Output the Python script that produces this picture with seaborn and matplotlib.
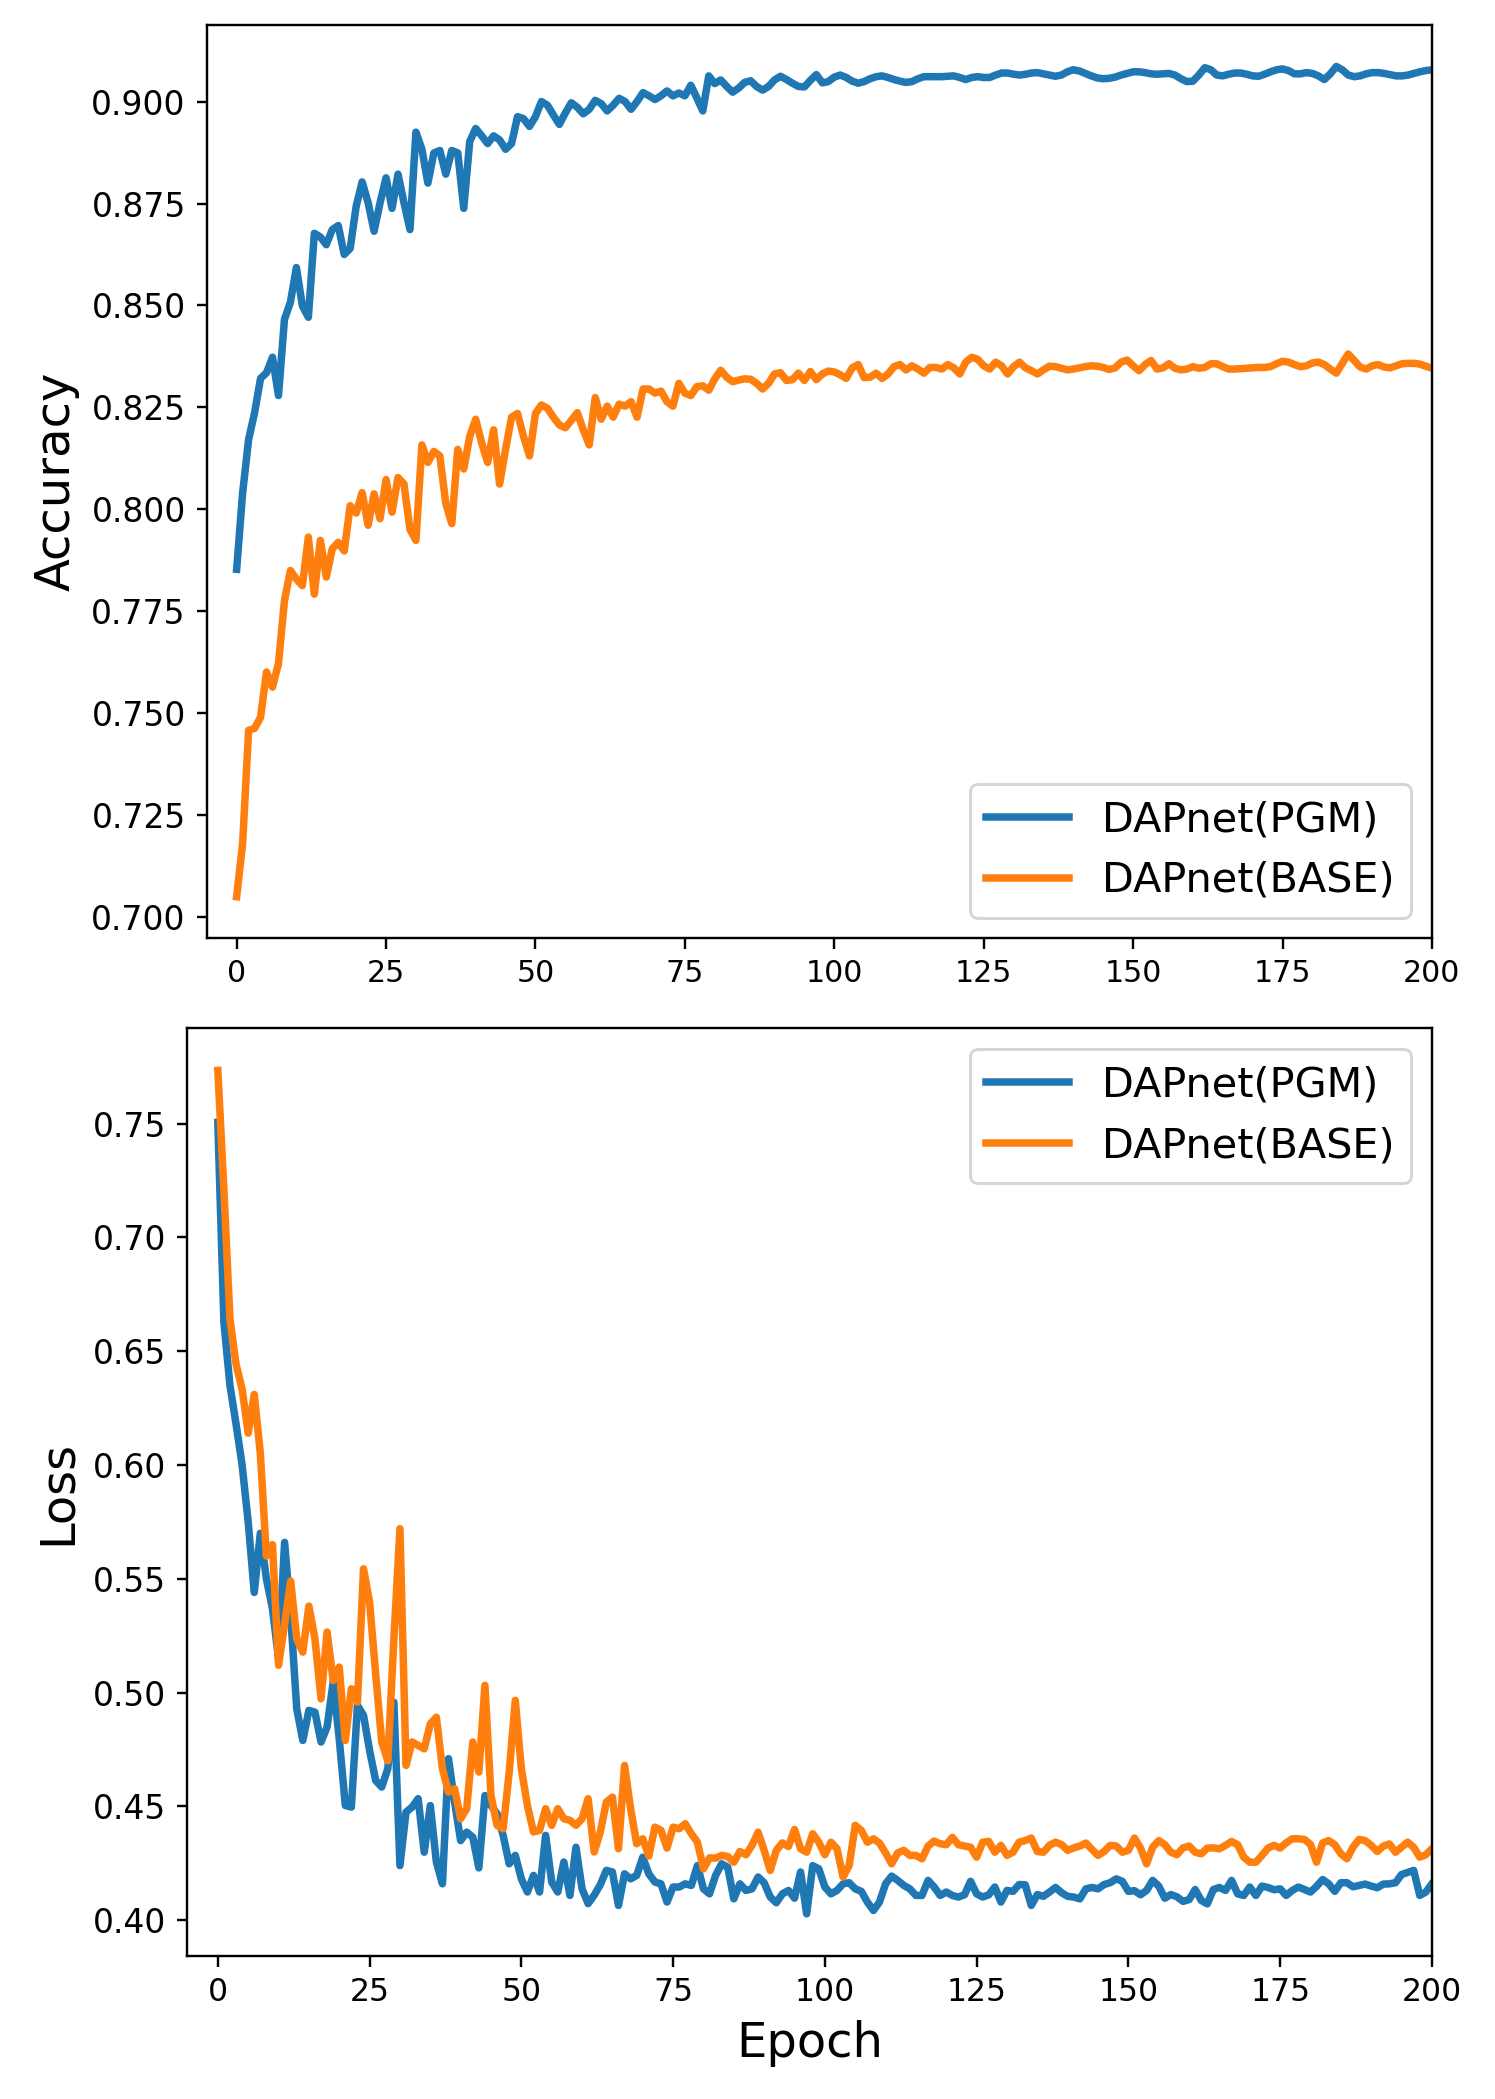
import numpy as np
import pandas as pd
import matplotlib
matplotlib.use("Agg")
import matplotlib.pyplot as plt
from matplotlib.ticker import MultipleLocator, FormatStrFormatter
import seaborn as sns

# accuracy per epoch (0..200)
acc_pgm = [
    0.7853, 0.8040, 0.8171, 0.8237, 0.8321, 0.8335, 0.8373, 0.8279, 0.8466, 0.8508,
    0.8593, 0.8499, 0.8471, 0.8677, 0.8668, 0.8649, 0.8686, 0.8696, 0.8625, 0.8640,
    0.8743, 0.8803, 0.8752, 0.8682, 0.8752, 0.8813, 0.8738, 0.8822, 0.8752, 0.8686,
    0.8925, 0.8883, 0.8800, 0.8874, 0.8880, 0.8822, 0.8880, 0.8874, 0.8738, 0.8902,
    0.8934, 0.8916, 0.8897, 0.8916, 0.8906, 0.8883, 0.8897, 0.8963, 0.8958, 0.8939,
    0.8963, 0.9000, 0.8991, 0.8967, 0.8944, 0.8972, 0.8997, 0.8986, 0.8970, 0.8981,
    0.9003, 0.8995, 0.8977, 0.8991, 0.9008, 0.9000, 0.8981, 0.9000, 0.9022, 0.9014,
    0.9005, 0.9014, 0.9026, 0.9014, 0.9021, 0.9014, 0.9040, 0.9009, 0.8977, 0.9063,
    0.9044, 0.9053, 0.9037, 0.9023, 0.9033, 0.9047, 0.9051, 0.9037, 0.9028, 0.9037,
    0.9053,
    0.9062, 0.9054, 0.9045, 0.9037, 0.9036, 0.9052, 0.9066, 0.9046, 0.9049, 0.9060,
    0.9065, 0.9059, 0.9050, 0.9045, 0.9049, 0.9056, 0.9061, 0.9063, 0.9059, 0.9054,
    0.9050, 0.9047, 0.9049, 0.9056, 0.9061, 0.9061, 0.9061, 0.9061, 0.9062, 0.9063,
    0.9059, 0.9054, 0.9059, 0.9061, 0.9059, 0.9059, 0.9065, 0.9070, 0.9070, 0.9067,
    0.9065, 0.9067, 0.9070, 0.9071, 0.9068, 0.9065, 0.9062, 0.9065, 0.9073, 0.9078,
    0.9075, 0.9069, 0.9063, 0.9058, 0.9056, 0.9057, 0.9060, 0.9065, 0.9069, 0.9073,
    0.9073, 0.9071, 0.9068, 0.9067, 0.9068, 0.9069, 0.9065, 0.9056, 0.9049, 0.9050,
    0.9065, 0.9083, 0.9078, 0.9065, 0.9063, 0.9067, 0.9070, 0.9070, 0.9067, 0.9063,
    0.9062, 0.9067, 0.9073, 0.9078, 0.9080, 0.9076, 0.9068, 0.9068, 0.9071, 0.9069,
    0.9063, 0.9054, 0.9068, 0.9086, 0.9078, 0.9065, 0.9061, 0.9063, 0.9068, 0.9071,
    0.9071, 0.9069, 0.9066, 0.9063, 0.9063, 0.9065, 0.9069, 0.9073, 0.9076, 0.9078,
]

acc_base = [
    0.7050, 0.7180, 0.7458, 0.7463, 0.7490, 0.7601, 0.7564, 0.7622, 0.7776, 0.7850,
    0.7829, 0.7813, 0.7932, 0.7792, 0.7924, 0.7834, 0.7903, 0.7919, 0.7898, 0.8009,
    0.7991, 0.8041, 0.7961, 0.8038, 0.7977, 0.8073, 0.7993, 0.8078, 0.8062, 0.7951,
    0.7924, 0.8158, 0.8115, 0.8142, 0.8131, 0.8014, 0.7965, 0.8147, 0.8099, 0.8179,
    0.8221, 0.8163, 0.8115, 0.8195, 0.8062, 0.8147, 0.8226, 0.8235, 0.8179, 0.8131,
    0.8235, 0.8256, 0.8248, 0.8226, 0.8207, 0.8200, 0.8218, 0.8237, 0.8195, 0.8158,
    0.8274, 0.8221, 0.8253, 0.8226, 0.8258, 0.8253, 0.8264, 0.8226, 0.8295, 0.8295,
    0.8285, 0.8290, 0.8264, 0.8253, 0.8309, 0.8285, 0.8279, 0.8301, 0.8303, 0.8292,
    0.8320, 0.8341, 0.8324, 0.8313, 0.8317, 0.8320, 0.8319, 0.8309, 0.8295, 0.8309,
    0.8332,
    0.8335, 0.8316, 0.8318, 0.8334, 0.8316, 0.8338, 0.8318, 0.8332, 0.8339, 0.8337,
    0.8330, 0.8321, 0.8347, 0.8355, 0.8323, 0.8324, 0.8334, 0.8321, 0.8332, 0.8350,
    0.8355, 0.8342, 0.8352, 0.8344, 0.8334, 0.8348, 0.8348, 0.8344, 0.8355, 0.8347,
    0.8332, 0.8361, 0.8373, 0.8368, 0.8352, 0.8344, 0.8361, 0.8352, 0.8332, 0.8350,
    0.8361, 0.8347, 0.8340, 0.8332, 0.8342, 0.8351, 0.8350, 0.8346, 0.8342, 0.8344,
    0.8347, 0.8350, 0.8352, 0.8351, 0.8348, 0.8343, 0.8347, 0.8361, 0.8366, 0.8352,
    0.8340, 0.8355, 0.8365, 0.8344, 0.8347, 0.8357, 0.8346, 0.8342, 0.8344, 0.8350,
    0.8346, 0.8348, 0.8357, 0.8357, 0.8350, 0.8344, 0.8344, 0.8345, 0.8346, 0.8347,
    0.8348, 0.8348, 0.8350, 0.8357, 0.8363, 0.8361, 0.8355, 0.8350, 0.8352, 0.8359,
    0.8361, 0.8355, 0.8344, 0.8334, 0.8358, 0.8381, 0.8365, 0.8349, 0.8344, 0.8352,
    0.8355, 0.8349, 0.8347, 0.8352, 0.8357, 0.8358, 0.8358, 0.8356, 0.8351, 0.8346,
]

# loss per epoch (0..200)
loss_pgm = [
    0.7505, 0.6627, 0.6349, 0.6180, 0.6000, 0.5750, 0.5440, 0.5700, 0.5500,
    0.5368, 0.5149, 0.5660, 0.5339, 0.4929, 0.4790, 0.4922, 0.4914, 0.4783, 0.4849,
    0.5046, 0.4797, 0.4504, 0.4497, 0.4944, 0.4900, 0.4746, 0.4614, 0.4585, 0.4666,
    0.4958, 0.4240, 0.4475, 0.4497, 0.4534, 0.4299, 0.4504, 0.4256, 0.4160, 0.4710,
    0.4519, 0.4350, 0.4387, 0.4365, 0.4230, 0.4548, 0.4504, 0.4468, 0.4373, 0.4248,
    0.4285, 0.4182, 0.4124, 0.4197, 0.4124, 0.4373, 0.4168, 0.4124, 0.4256, 0.4109,
    0.4321, 0.4138, 0.4073, 0.4110, 0.4156,
    0.4219, 0.4212, 0.4065, 0.4204, 0.4182, 0.4197, 0.4277, 0.4204, 0.4168, 0.4160,
    0.4080, 0.4146, 0.4146, 0.4160, 0.4153, 0.4240, 0.4138, 0.4116, 0.4197, 0.4248,
    0.4233, 0.4094, 0.4160, 0.4131, 0.4138, 0.4190, 0.4165, 0.4102, 0.4077, 0.4116,
    0.4131, 0.4097, 0.4212, 0.4028, 0.4240, 0.4226, 0.4146, 0.4116, 0.4131, 0.4160,
    0.4165, 0.4138, 0.4127, 0.4080, 0.4043, 0.4080, 0.4160, 0.4194, 0.4175, 0.4153,
    0.4138, 0.4109, 0.4109, 0.4175, 0.4146, 0.4109, 0.4124, 0.4109, 0.4102, 0.4112,
    0.4171, 0.4116, 0.4102, 0.4112, 0.4146, 0.4080, 0.4131,
    0.4127, 0.4157, 0.4156, 0.4065, 0.4113, 0.4105, 0.4124, 0.4144, 0.4121, 0.4105,
    0.4102, 0.4094, 0.4138, 0.4144, 0.4138, 0.4157, 0.4165, 0.4182, 0.4171, 0.4127,
    0.4130, 0.4112, 0.4131, 0.4175, 0.4150, 0.4097, 0.4113, 0.4103, 0.4083, 0.4091,
    0.4135, 0.4087, 0.4072, 0.4135, 0.4144, 0.4131, 0.4175, 0.4116, 0.4109, 0.4146,
    0.4109, 0.4150, 0.4144, 0.4134, 0.4138, 0.4109, 0.4131, 0.4146, 0.4135, 0.4124,
    0.4149, 0.4179, 0.4160, 0.4127, 0.4165, 0.4165, 0.4147, 0.4153, 0.4159, 0.4150,
    0.4143, 0.4159, 0.4160, 0.4165, 0.4201, 0.4210, 0.4219, 0.4109, 0.4124, 0.4160,
]

loss_base = [
    0.7733, 0.7210, 0.6641, 0.6443, 0.6333, 0.6140, 0.6310, 0.6052, 0.5600, 0.5650,
    0.5120, 0.5300, 0.5490,
    0.5236, 0.5178, 0.5380, 0.5236, 0.4973, 0.5266, 0.5053, 0.5112, 0.4790, 0.5017,
    0.4958, 0.5544, 0.5397, 0.5083, 0.4783, 0.4700, 0.5236, 0.5720, 0.4680, 0.4783,
    0.4768, 0.4753, 0.4863, 0.4892, 0.4666, 0.4563, 0.4578, 0.4446, 0.4490, 0.4783,
    0.4651, 0.5032, 0.4548, 0.4417, 0.4402, 0.4651, 0.4966, 0.4666, 0.4504, 0.4388,
    0.4395, 0.4490, 0.4417, 0.4490, 0.4446, 0.4439, 0.4417, 0.4446, 0.4534, 0.4300,
    0.4387,
    0.4519, 0.4541, 0.4314, 0.4680, 0.4490, 0.4336, 0.4358, 0.4282, 0.4409, 0.4395,
    0.4317, 0.4409, 0.4402, 0.4424, 0.4380, 0.4343, 0.4226, 0.4274, 0.4273, 0.4285,
    0.4280, 0.4255, 0.4302, 0.4288, 0.4329, 0.4387, 0.4307, 0.4219, 0.4307, 0.4340,
    0.4324, 0.4399, 0.4314, 0.4299, 0.4380, 0.4343, 0.4288, 0.4343, 0.4314, 0.4190,
    0.4241, 0.4417, 0.4395, 0.4343, 0.4358, 0.4339, 0.4296, 0.4248, 0.4296, 0.4307,
    0.4285, 0.4285, 0.4270, 0.4326, 0.4348, 0.4336, 0.4332, 0.4364, 0.4332, 0.4326,
    0.4321, 0.4277, 0.4343, 0.4346, 0.4299, 0.4329, 0.4285,
    0.4299, 0.4343, 0.4350, 0.4361, 0.4302, 0.4299, 0.4329, 0.4343, 0.4332, 0.4307,
    0.4318, 0.4326, 0.4339, 0.4311, 0.4285, 0.4302, 0.4329, 0.4326, 0.4299, 0.4307,
    0.4361, 0.4317, 0.4248, 0.4321, 0.4350, 0.4332, 0.4299, 0.4288, 0.4318, 0.4326,
    0.4299, 0.4292, 0.4317, 0.4318, 0.4314, 0.4329, 0.4346, 0.4332, 0.4277, 0.4255,
    0.4255, 0.4285, 0.4317, 0.4329, 0.4317, 0.4340, 0.4358, 0.4358, 0.4355, 0.4333,
    0.4255, 0.4340, 0.4350, 0.4332, 0.4292, 0.4270, 0.4321, 0.4355, 0.4350, 0.4329,
    0.4302, 0.4326, 0.4335, 0.4299, 0.4321, 0.4343, 0.4320, 0.4277, 0.4288, 0.4314,
]

labels = ["DAPnet(PGM)", "DAPnet(BASE)"]
colors = ["#1f77b4", "#ff7f0e"]

DPI = 216
fig = plt.figure(figsize=(1495 / DPI, 2099 / DPI), dpi=DPI)
ax_acc = fig.add_axes([0.1383, 0.5530, 0.8195, 0.4351])
ax_loss = fig.add_axes([0.1254, 0.0681, 0.8324, 0.4420])

def draw(ax, series, ylabel, loc, step, fmt, xsize):
    for values, name, color in zip(series, labels, colors):
        df = pd.DataFrame({"epoch": np.arange(len(values)), "value": values})
        sns.lineplot(data=df, x="epoch", y="value", ax=ax, color=color,
                     linewidth=2.5, label=name)
    ax.set_xlim(-5, 200)
    ax.yaxis.set_major_locator(MultipleLocator(step))
    ax.yaxis.set_major_formatter(FormatStrFormatter(fmt))
    ax.tick_params(axis="y", labelsize=11)
    ax.tick_params(axis="x", labelsize=xsize)
    ax.set_ylabel(ylabel, fontsize=16)
    ax.set_xlabel("")
    ax.legend(loc=loc, fontsize=13.8)

draw(ax_acc, [acc_pgm, acc_base], "Accuracy", "lower right", 0.025, "%.3f", 10)
draw(ax_loss, [loss_pgm, loss_base], "Loss", "upper right", 0.05, "%.2f", 10.5)
ax_loss.set_xlabel("Epoch", fontsize=16)

fig.savefig("out.png", dpi=DPI)
